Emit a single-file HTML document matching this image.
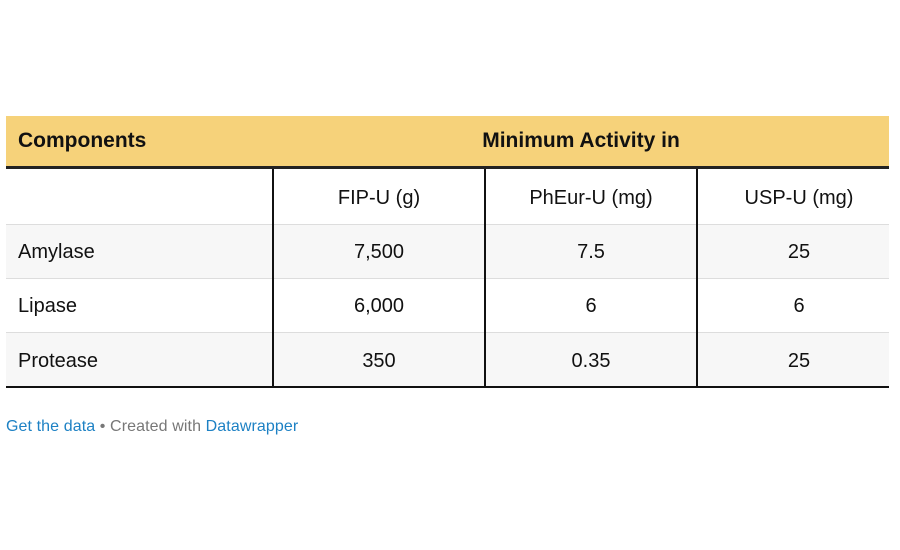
<!DOCTYPE html>
<html><head><style>
body{margin:0;width:900px;height:550px;background:#fff;font-family:"Liberation Sans",Arial,sans-serif;position:relative;overflow:hidden}
.a{position:absolute}
.hdr{left:6px;top:116px;width:883px;height:50px;background:#f6d27a}
.thick{left:6px;top:166px;width:883px;height:3px;background:#222}
.row{left:6px;width:883px;border-top:1px solid #ddd}
.t{position:absolute;font-size:20px;color:#111;line-height:24px}
.c{text-align:center}
.v{position:absolute;top:169px;width:1.5px;height:218px;background:#111}
</style></head><body>
<div class="a hdr"></div>
<div class="t" style="left:18px;top:129px;font-weight:bold;font-size:21px">Components</div>
<div class="t c" style="left:273px;width:616px;top:129px;font-weight:bold;font-size:21px">Minimum Activity in</div>
<div class="a thick"></div>
<div class="a row" style="top:224px;height:54px;background:#f7f7f7"></div>
<div class="a row" style="top:278px;height:54px;background:#fff"></div>
<div class="a row" style="top:332px;height:54px;background:#f7f7f7"></div>
<div class="a" style="left:6px;top:386px;width:883px;height:2px;background:#111"></div>
<div class="v" style="left:272px"></div>
<div class="v" style="left:484px"></div>
<div class="v" style="left:696px"></div>

<div class="t c" style="left:273px;width:212px;top:186px">FIP-U (g)</div>
<div class="t c" style="left:485px;width:212px;top:186px">PhEur-U (mg)</div>
<div class="t c" style="left:697px;width:204px;top:186px">USP-U (mg)</div>

<div class="t" style="left:18px;top:240px">Amylase</div>
<div class="t c" style="left:273px;width:212px;top:240px">7,500</div>
<div class="t c" style="left:485px;width:212px;top:240px">7.5</div>
<div class="t c" style="left:697px;width:204px;top:240px">25</div>

<div class="t" style="left:18px;top:294px">Lipase</div>
<div class="t c" style="left:273px;width:212px;top:294px">6,000</div>
<div class="t c" style="left:485px;width:212px;top:294px">6</div>
<div class="t c" style="left:697px;width:204px;top:294px">6</div>

<div class="t" style="left:18px;top:349px">Protease</div>
<div class="t c" style="left:273px;width:212px;top:349px">350</div>
<div class="t c" style="left:485px;width:212px;top:349px">0.35</div>
<div class="t c" style="left:697px;width:204px;top:349px">25</div>

<div class="a" style="left:6px;top:418px;font-size:16px;color:#777;line-height:18px;letter-spacing:0.1px"><span style="color:#1d81c4">Get the data</span> • Created with <span style="color:#1d81c4">Datawrapper</span></div>
</body></html>
